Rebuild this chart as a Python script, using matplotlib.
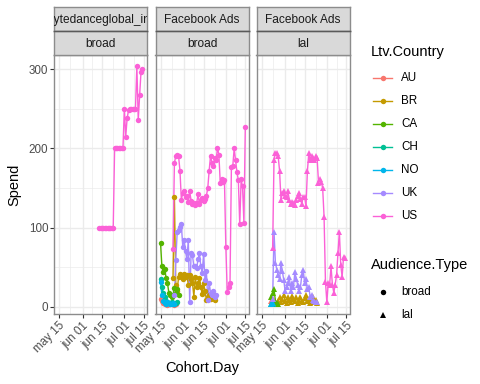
import pandas as pd
import matplotlib
matplotlib.use("Agg")
import matplotlib.pyplot as plt
from matplotlib.lines import Line2D

plt.rcParams["font.family"] = ["Liberation Sans", "DejaVu Sans"]

# ---- data: daily spend per (source, audience, country) ----
# bytedanceglobal_int / broad
byte_broad_us_start = "2019-06-13"
byte_broad_us = [100, 100, 100, 100, 100, 100, 100, 100, 100, 100, 100,
                 200, 200, 200, 200, 200, 200, 200,
                 250, 215, 238, 248, 250, 250, 250, 250, 250,
                 304, 236, 267, 297, 300]

# Facebook Ads / broad
fb_broad_au_start = "2019-05-15"
fb_broad_au = [10, 8, 5, 3, 3, 2, 4, 3, 5, 3, 2, 4]
fb_broad_br_start = "2019-05-24"
fb_broad_br = [37, 139, 28, 20, 38, 42, 40, 35, 42, 38, 40, 28, 40, 35, 30, 13,
               38, 25, 30, 37, 25, 16, 30, 20, 9, 12, 15, 10, 12, 16, 9]
fb_broad_ca_start = "2019-05-15"
fb_broad_ca = [81, 51, 44, 48, 37, 30, 18, 15, 12, 15, 24, 18, 22, 15]
fb_broad_ch_start = "2019-05-15"
fb_broad_ch = [35, 25, 18, 12, 8, 6, 5, 5, 6, 5, 4, 5, 6]
fb_broad_no_start = "2019-05-15"
fb_broad_no = [32, 15, 8, 5, 4, 6, 5, 3, 4, 5, 4]
fb_broad_uk_start = "2019-05-25"
fb_broad_uk = [15, 59, 94, 97, 101, 104, 76, 85, 70, 60, 85, 6, 68, 65, 51, 51,
               49, 60, 68, 51, 43, 67, 34, 45, 9, 30, 18, 15, 20, 12, 15]
fb_broad_us_start = "2019-05-24"
fb_broad_us = [73, 182, 190, 192, 190, 172, 135, 144, 146, 139, 140, 132, 146,
               134, 130, 131, 128, 131, 142, 130, 135, 138, 134, 136, 140, 150,
               172, 191, 182, 178, 188, 185, 201, 192, 156, 161, 158, 160, 76,
               19, 25, 30, 177, 178, 200, 185, 170, 160, 104, 161, 152, 106, 227]

# Facebook Ads / lal
fb_lal_au_start = "2019-05-22"
fb_lal_au = [8, 5, 9]
fb_lal_br_start = "2019-05-26"
fb_lal_br = [5, 8, 12, 6, 10, 15, 8, 5, 12, 9, 6, 14, 10, 7, 12, 5, 9, 13, 8, 6,
             11, 15, 7, 10, 5, 8, 12, 6, 9, 5]
fb_lal_ca_start = "2019-05-22"
fb_lal_ca = [12, 18, 22, 8, 5, 3]
fb_lal_ch_start = "2019-05-22"
fb_lal_ch = [4, 3]
fb_lal_no_start = "2019-05-22"
fb_lal_no = [3, 5]
fb_lal_uk_start = "2019-05-23"
fb_lal_uk = [10, 95, 56, 47, 40, 35, 56, 45, 34, 20, 25, 30, 38, 20, 30, 25, 44,
             35, 28, 20, 25, 40, 47, 30, 35, 22, 25, 13, 15, 9, 8, 6, 6]
fb_lal_us_start = "2019-05-23"
fb_lal_us = [74, 186, 194, 194, 190, 172, 135, 144, 146, 140, 139, 146, 135, 130,
             133, 131, 128, 135, 140, 144, 136, 130, 139, 139, 127, 171, 194, 186,
             190, 188, 186, 190, 188, 157, 161, 158, 150, 114, 32, 6, 30, 28, 51,
             28, 18, 28, 40, 68, 95, 53, 38, 63, 62]

countries = ["AU", "BR", "CA", "CH", "NO", "UK", "US"]
country_colors = ["#F8766D", "#C49A00", "#53B400", "#00C094", "#00B6EB", "#A58AFF", "#FB61D7"]
strip_top = ["bytedanceglobal_int", "Facebook Ads", "Facebook Ads"]
strip_bottom = ["broad", "broad", "lal"]
y_ticks = [0, 100, 200, 300]
x_tick_dates = ["2019-05-15", "2019-06-01", "2019-06-15", "2019-07-01", "2019-07-15"]
x_tick_labels = ["may 15", "jun 01", "jun 15", "jul 01", "jul 15"]
x_minor_dates = ["2019-05-23", "2019-06-08", "2019-06-23", "2019-07-08"]

panels = [
    [("US", byte_broad_us_start, byte_broad_us)],
    [("AU", fb_broad_au_start, fb_broad_au), ("BR", fb_broad_br_start, fb_broad_br),
     ("CA", fb_broad_ca_start, fb_broad_ca), ("CH", fb_broad_ch_start, fb_broad_ch),
     ("NO", fb_broad_no_start, fb_broad_no), ("UK", fb_broad_uk_start, fb_broad_uk),
     ("US", fb_broad_us_start, fb_broad_us)],
    [("AU", fb_lal_au_start, fb_lal_au), ("BR", fb_lal_br_start, fb_lal_br),
     ("CA", fb_lal_ca_start, fb_lal_ca), ("CH", fb_lal_ch_start, fb_lal_ch),
     ("NO", fb_lal_no_start, fb_lal_no), ("UK", fb_lal_uk_start, fb_lal_uk),
     ("US", fb_lal_us_start, fb_lal_us)],
]
panel_markers = ["o", "o", "^"]

W, H = 480, 384
color_of = dict(zip(countries, country_colors))
MS = 3.9


def px_axes(fig, left, top, right, bottom, **kw):
    return fig.add_axes([left / W, 1 - bottom / H, (right - left) / W, (bottom - top) / H], **kw)


fig = plt.figure(figsize=(4.8, 3.84), dpi=100)
fig.patch.set_facecolor("white")

x_lo = pd.Timestamp("2019-05-15") - pd.Timedelta(days=3.6)
x_hi = pd.Timestamp("2019-05-15") + pd.Timedelta(days=63.3)
panel_lefts = [54, 155.5, 256.5]
panel_w = 93
border = "#8C8C8C"
tick_col = "#333333"

for i, series in enumerate(panels):
    left = panel_lefts[i]
    ax = px_axes(fig, left, 55, left + panel_w, 314)
    ax.set_xlim(x_lo, x_hi)
    ax.set_ylim(-9, 318)
    ax.set_xticks(pd.to_datetime(x_tick_dates))
    ax.set_xticks(pd.to_datetime(x_minor_dates), minor=True)
    ax.set_yticks(y_ticks)
    ax.set_yticks([50, 150, 250], minor=True)
    ax.grid(which="major", color="#EBEBEB", lw=1.0)
    ax.grid(which="minor", color="#EBEBEB", lw=0.5)
    ax.set_axisbelow(True)
    ax.tick_params(which="minor", length=0)
    ax.tick_params(which="major", length=2.6, width=0.8, color=tick_col,
                   labelsize=8.4, labelcolor="#4D4D4D", pad=1.5)
    ax.set_xticklabels(x_tick_labels, rotation=45, ha="right", rotation_mode="anchor")
    if i == 0:
        ax.set_yticklabels([str(v) for v in y_ticks])
    else:
        ax.tick_params(axis="y", length=0, labelleft=False)
    for s in ax.spines.values():
        s.set_color(border)
        s.set_linewidth(1.0)

    # lines first, then points (ggplot layer order)
    for country, start, vals in series:
        dates = pd.date_range(start, periods=len(vals), freq="D")
        ax.plot(dates, vals, color=color_of[country], lw=1.0, zorder=2)
    for country, start, vals in series:
        dates = pd.date_range(start, periods=len(vals), freq="D")
        ax.plot(dates, vals, ls="none", marker=panel_markers[i], ms=MS, mew=0,
                mfc=color_of[country], zorder=3)

    # strips
    for t, b, label in [(7, 31, strip_top[i]), (31, 55, strip_bottom[i])]:
        sax = px_axes(fig, left, t, left + panel_w, b)
        sax.set_facecolor("#D9D9D9")
        sax.set_xticks([])
        sax.set_yticks([])
        for s in sax.spines.values():
            s.set_color(border)
            s.set_linewidth(1.0)
        sax.text(0.5, 0.47, label, transform=sax.transAxes, ha="center", va="center",
                 fontsize=8.6, color="#1A1A1A", clip_on=True)
    # darker line where the two strips meet
    fig.add_artist(Line2D([left / W, (left + panel_w) / W], [1 - 31 / H, 1 - 31 / H],
                          color="#5A5A5A", lw=1.0))

# axis titles
fig.text(202 / W, 1 - 368 / H, "Cohort.Day", ha="center", va="center", fontsize=10.5)
fig.text(14 / W, 1 - 185 / H, "Spend", ha="center", va="center", rotation=90, fontsize=10.5)

# legend drawn in pixel coordinates
lax = fig.add_axes([0, 0, 1, 1], zorder=5)
lax.set_xlim(0, W)
lax.set_ylim(H, 0)
lax.axis("off")
lax.text(371, 52, "Ltv.Country", fontsize=10.5, va="center", ha="left")
key_y = [78, 101, 124, 147, 170, 193, 216]
for country, col, ky in zip(countries, country_colors, key_y):
    lax.add_line(Line2D([373, 392], [ky, ky], color=col, lw=1.0))
    lax.plot([382.5], [ky], marker="o", ms=MS, mew=0, color=col)
    lax.text(401, ky, country, fontsize=8.4, va="center", ha="left", color="black")
lax.text(371, 265, "Audience.Type", fontsize=10.5, va="center", ha="left")
for mk, lbl, ky in zip(["o", "^"], ["broad", "lal"], [292, 315]):
    lax.plot([382.5], [ky], marker=mk, ms=MS, mew=0, color="black", ls="none")
    lax.text(401, ky, lbl, fontsize=8.4, va="center", ha="left", color="black")

fig.savefig("out.png", dpi=100)
